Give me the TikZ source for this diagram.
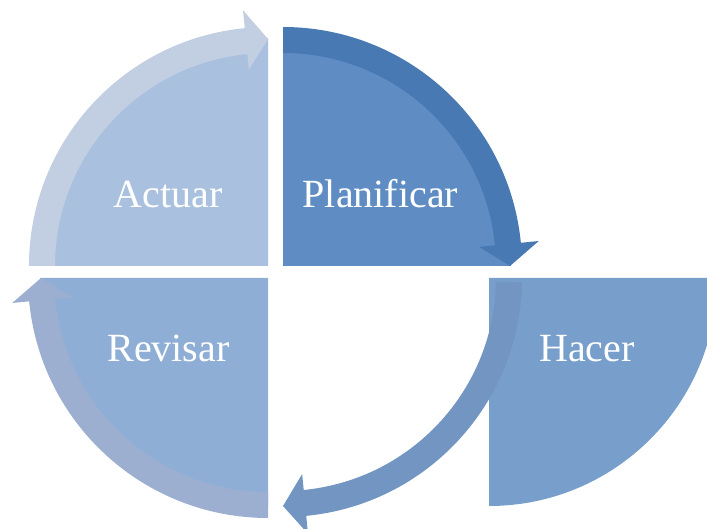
\documentclass[tikz,border=0pt]{standalone}
\usepackage{fontspec}
\setmainfont{Liberation Serif}
\definecolor{actPie}{HTML}{A9C1DF}
\definecolor{actBand}{HTML}{C2CEE2}
\definecolor{plaPie}{HTML}{5F8DC3}
\definecolor{plaBand}{HTML}{4879B3}
\definecolor{revPie}{HTML}{8FAED6}
\definecolor{revBand}{HTML}{9CAFD1}
\definecolor{hacPie}{HTML}{789ECB}
\definecolor{hacBand}{HTML}{7395C2}
\begin{document}
\begin{tikzpicture}[x=1pt,y=1pt,
  lbl/.style={text=white,font=\fontsize{40pt}{48pt}\selectfont,inner sep=0pt,anchor=base}]
\useasboundingbox (0,0) rectangle (707,528);
\clip (0,0) rectangle (707,528);
% centres
\coordinate (cA) at (268,262);
\coordinate (cP) at (283,262);
\coordinate (cR) at (268,250);
\coordinate (cH) at (489,250);
\coordinate (cHa) at (283,250);
% pies
\fill[actPie] (cA) -- ++(90:228pt) arc[start angle=90,end angle=180,radius=228pt] -- cycle;
\fill[plaPie] (cP) -- ++(0:228pt) arc[start angle=0,end angle=90,radius=228pt] -- cycle;
\fill[revPie] (cR) -- ++(180:228pt) arc[start angle=180,end angle=270,radius=228pt] -- cycle;
\fill[hacPie] (cH) -- ++(0:228pt) arc[start angle=0,end angle=-90,radius=228pt] -- cycle;
% arrows
\begin{scope}[shift={(cA)}]
\fill[actBand] (180:239pt) arc[start angle=180,end angle=95.58,radius=239pt] -- (95.58:257pt) -- (90:227pt) -- (95.58:197pt) -- (95.58:213pt) arc[start angle=95.58,end angle=180,radius=213pt] -- cycle;
\end{scope}
\begin{scope}[shift={(cP)}]
\fill[plaBand] (90:239pt) arc[start angle=90,end angle=5.58,radius=239pt] -- (5.58:257pt) -- (0:227pt) -- (5.58:197pt) -- (5.58:213pt) arc[start angle=5.58,end angle=90,radius=213pt] -- cycle;
\end{scope}
\begin{scope}[shift={(cHa)}]
\fill[hacBand] (-1:239pt) arc[start angle=-1,end angle=-84.42,radius=239pt] -- (-84.42:257pt) -- (-90:228pt) -- (-84.42:197pt) -- (-84.42:213pt) arc[start angle=-84.42,end angle=-1,radius=213pt] -- cycle;
\end{scope}
\begin{scope}[shift={(cR)}]
\fill[revBand] (270:240pt) arc[start angle=270,end angle=185.58,radius=240pt] -- (185.58:257pt) -- (180:227pt) -- (185.58:197pt) -- (185.58:214pt) arc[start angle=185.58,end angle=270,radius=214pt] -- cycle;
\end{scope}
% labels
\node[lbl] (actuar) at (168,320) {Actuar};
\node[lbl] (planificar) at (380.5,320) {Planificar};
\node[lbl] (revisar) at (168.5,166) {Revisar};
\node[lbl] (hacer) at (587,166) {Hacer};
\end{tikzpicture}
\end{document}
